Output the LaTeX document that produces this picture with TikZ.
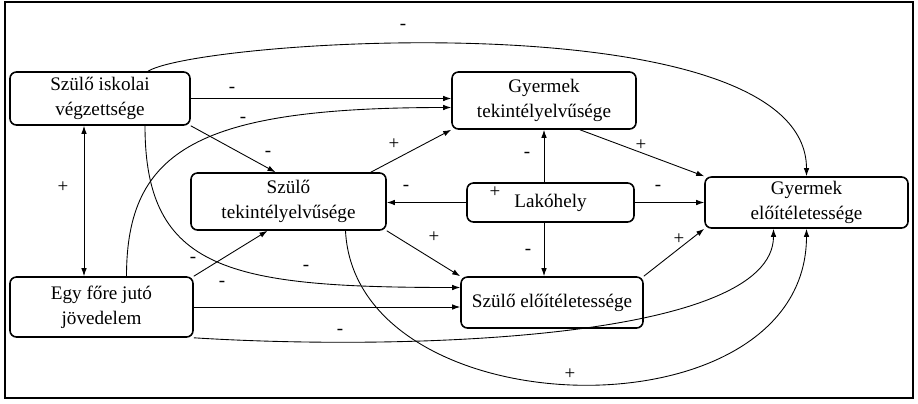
\documentclass[tikz,border=0pt]{standalone}
\usepackage{fontspec}
\setmainfont{Liberation Serif}
\usetikzlibrary{
		calc,
		positioning,
		arrows.meta
	}
\tikzset{
		>={Latex[length=1.6mm,width=1.1mm]},
		box/.style={draw, line width=0.9pt, rounded corners=1.3mm, align=center, inner sep=0.5mm, font=\fontsize{10.9}{14.2}\selectfont},
		sign/.style={inner sep=0pt, font=\fontsize{10.8}{12}\selectfont},
		link/.style={black, line width=0.5pt, ->}
	}

\begin{document}
\begin{tikzpicture}[x=0.2mm, y=-0.2mm]
		\useasboundingbox (0,0) rectangle (918,403);
		% Frame
		\draw[line width=0.6pt] (5,2) rectangle (913,398);
		% Boxes
		\node[box, minimum width=36mm, minimum height=10.6mm] (iskola) at (100,98.5) {Szülő iskolai\\végzettsége};
		\node[box, minimum width=36.8mm, minimum height=11.4mm] (gyertek) at (544,100.5) {Gyermek\\tekintélyelvűsége};
		\node[box, minimum width=39mm, minimum height=11.4mm] (szulotek) at (288.5,201.5) {Szülő\\tekintélyelvűsége};
		\node[box, minimum width=33.4mm, minimum height=7.8mm] (lakohely) at (550.5,202.5) {Lakóhely};
		\node[box, minimum width=40.6mm, minimum height=10.2mm] (gyerelo) at (806.5,202.5) {Gyermek\\előítéletessége};
		\node[box, minimum width=36.6mm, minimum height=12mm] (jovedelem) at (101.5,307) {Egy főre jutó\\jövedelem};
		\node[box, minimum width=36.4mm, minimum height=10.2mm] (szuloelo) at (552,302.5) {Szülő előítéletessége};
		\coordinate (ijx) at ($(iskola.south)+(-16,0)$);
		% Arrows
		\draw[link] (iskola.east) -- (iskola.east -| gyertek.west);
		\draw[link] ($(jovedelem.north)+(25,0)$) .. controls +(0,-127) and +(-252,0) .. ($(gyertek.west)+(0,7)$);
		\draw[link] (iskola.south east) -- ($(szulotek.north)+(-13,0)$);
		\draw[link] ($(iskola.north)+(48,0)$) .. controls +(52,-32) and +(0,-177) .. (gyerelo.north);
		\draw[link, <->] (ijx) -- (ijx |- jovedelem.north);
		\draw[link] ($(iskola.south)+(45,0)$) .. controls +(0,145) and +(-231,0) .. ($(szuloelo.west)+(0,-15)$);
		\draw[link] (jovedelem.north east) -- ($(szulotek.south)+(-21,0)$);
		\draw[link] (jovedelem.east) -- (jovedelem.east -| szuloelo.west);
		\draw[link] (jovedelem.south east) .. controls +(207,13) and +(0,112) .. ($(gyerelo.south)+(-33,0)$);
		\draw[link] ($(szulotek.south)+(57,0)$) .. controls +(10,200) and +(0,212) .. (gyerelo.south);
		\draw[link] ($(szulotek.north east)+(-16,0)$) -- (gyertek.south west);
		\draw[link] (lakohely.west) -- (lakohely.west -| szulotek.east);
		\draw[link] (gyertek.south |- lakohely.north) -- (gyertek.south);
		\draw[link] (gyertek.south |- lakohely.south) -- (gyertek.south |- szuloelo.north);
		\draw[link] (lakohely.east) -- (lakohely.east -| gyerelo.west);
		\draw[link] ($(gyertek.south)+(36,0)$) -- (gyerelo.north west);
		\draw[link] (szulotek.south east) -- (szuloelo.north west);
		\draw[link] (szuloelo.north east) -- (gyerelo.south west);
		% Signs
		\foreach \sx/\sy/\sgn [count=\k] in {403/27/-, 232/90/-, 243/120/-, 268/154/-, 63/187/+, 394/144/+, 527/155/-, 641/145/+, 406/188/-, 495/192/+, 658/188/-, 434/237/+, 528/252/-, 679/239/+, 193/260/-, 306/268/-, 222/284/-, 340/332/-, 570/374/+}
			\node[sign] (sign\k) at (\sx,\sy) {\sgn};
	\end{tikzpicture}
\end{document}
